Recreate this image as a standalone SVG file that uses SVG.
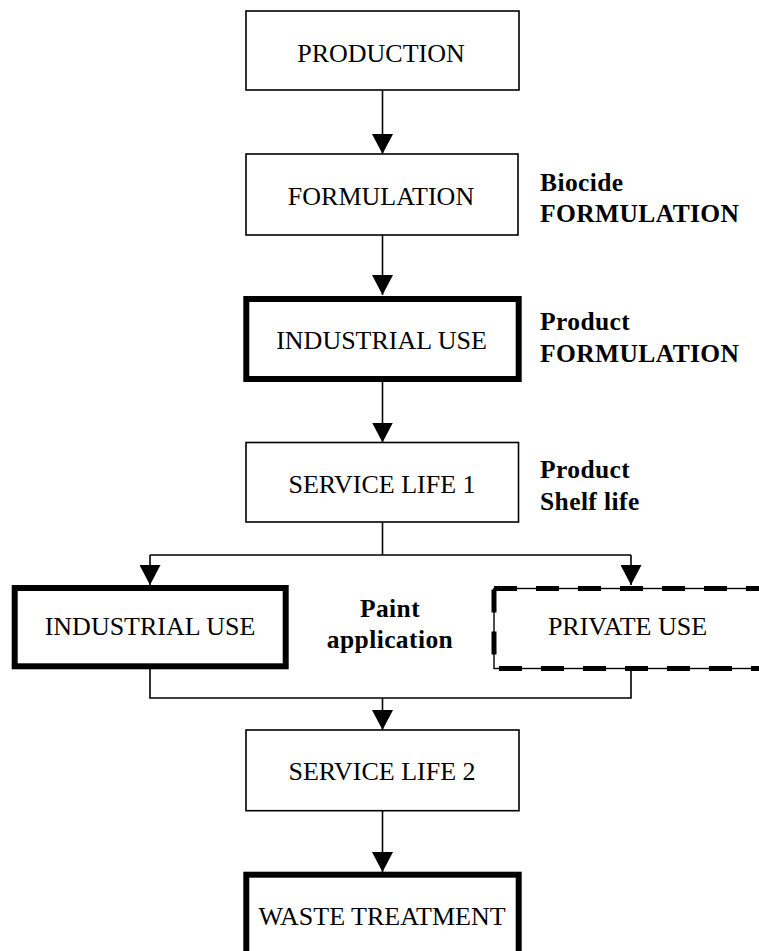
<svg xmlns="http://www.w3.org/2000/svg" width="759" height="951" viewBox="0 0 759 951">
<style>
  .box { fill: #ffffff; stroke: #000000; stroke-width: 1.6; }
  .thick { fill: #ffffff; stroke: #000000; stroke-width: 6; }
  .dashbase { fill: #ffffff; stroke: #000000; stroke-width: 1.4; }
  .dash { fill: none; stroke: #000000; stroke-width: 5; stroke-dasharray: 23 19; }
  .lbl { font-family: "Liberation Serif", "Times New Roman", serif; font-size: 26px; fill: #000000; text-anchor: middle; }
  .side { font-family: "Liberation Serif", "Times New Roman", serif; font-size: 25.5px; font-weight: bold; letter-spacing: 0.4px; fill: #000000; }
  .conn { fill: none; stroke: #000000; stroke-width: 1.6; }
</style>
<defs>
  <marker id="arrow" viewBox="0 0 20 21" refX="20" refY="10.5" markerWidth="20" markerHeight="21" markerUnits="userSpaceOnUse" orient="auto">
    <path d="M0,0 L20,10.5 L0,21 z" fill="#000000"/>
  </marker>
</defs>
<rect width="759" height="951" fill="#ffffff"/>

<g id="connectors">
  <path class="conn" d="M382.5,90 V154" marker-end="url(#arrow)"/>
  <path class="conn" d="M382.5,235 V295" marker-end="url(#arrow)"/>
  <path class="conn" d="M382.5,382 V442.5" marker-end="url(#arrow)"/>
  <path class="conn" d="M382.5,522 V555"/>
  <path class="conn" d="M150,555 H631"/>
  <path class="conn" d="M150,555 V585" marker-end="url(#arrow)"/>
  <path class="conn" d="M631,555 V585" marker-end="url(#arrow)"/>
  <path class="conn" d="M150,669 V698 H631 V668"/>
  <path class="conn" d="M382.5,698 V730" marker-end="url(#arrow)"/>
  <path class="conn" d="M382.5,811 V872" marker-end="url(#arrow)"/>
</g>

<g id="production">
  <rect class="box" x="246" y="11" width="273" height="79"/>
  <text class="lbl" x="381" y="62">PRODUCTION</text>
</g>

<g id="formulation">
  <rect class="box" x="246" y="154" width="272" height="81"/>
  <text class="lbl" x="381" y="205">FORMULATION</text>
</g>

<g id="industrial-use-1">
  <rect class="thick" x="246.3" y="299" width="272.4" height="80"/>
  <text class="lbl" x="381.5" y="349">INDUSTRIAL USE</text>
</g>

<g id="service-life-1">
  <rect class="box" x="246" y="442.5" width="272.5" height="79.5"/>
  <text class="lbl" x="382" y="493">SERVICE LIFE 1</text>
</g>

<g id="industrial-use-2">
  <rect class="thick" x="14.7" y="588" width="271" height="78.3"/>
  <text class="lbl" x="150" y="635">INDUSTRIAL USE</text>
</g>

<g id="private-use">
  <rect class="dashbase" x="494" y="588.5" width="268" height="80"/>
  <rect class="dash" x="494" y="588.5" width="268" height="80"/>
  <text class="lbl" x="627.5" y="635">PRIVATE USE</text>
</g>

<g id="service-life-2">
  <rect class="box" x="246" y="730" width="273" height="80.7"/>
  <text class="lbl" x="382" y="780">SERVICE LIFE 2</text>
</g>

<g id="waste-treatment">
  <rect class="thick" x="246.3" y="874.7" width="272.4" height="90"/>
  <text class="lbl" x="382" y="925">WASTE TREATMENT</text>
</g>

<g id="label-biocide">
  <text class="side" x="540" y="191">Biocide</text>
  <text class="side" x="540" y="222">FORMULATION</text>
</g>
<g id="label-product-formulation">
  <text class="side" x="540" y="330">Product</text>
  <text class="side" x="540" y="362">FORMULATION</text>
</g>
<g id="label-shelf-life">
  <text class="side" x="540" y="478">Product</text>
  <text class="side" x="540" y="510">Shelf life</text>
</g>
<g id="label-paint">
  <text class="side" x="390" y="617" text-anchor="middle">Paint</text>
  <text class="side" x="390" y="648" text-anchor="middle">application</text>
</g>
</svg>
